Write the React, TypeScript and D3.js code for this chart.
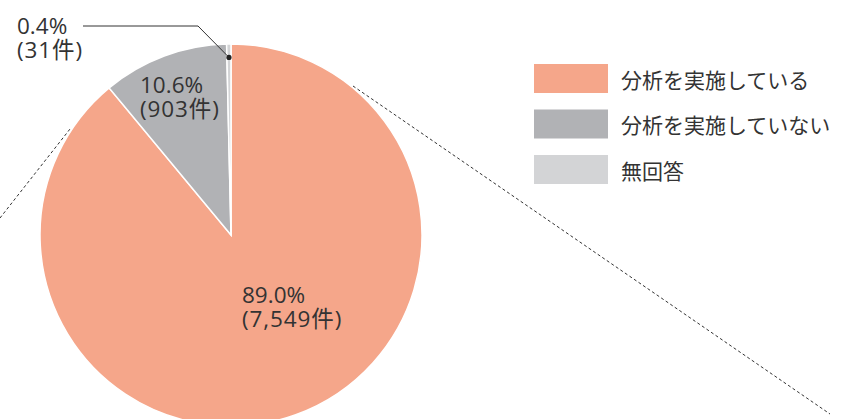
import React from "react";
import * as d3 from "d3";

const categories = ["分析を実施している", "分析を実施していない", "無回答"];
const counts = [7549, 903, 31];
const percentLabels = ["89.0%", "10.6%", "0.4%"];
const countLabels = ["(7,549件)", "(903件)", "(31件)"];
const colors = ["#F5A68A", "#B1B2B5", "#D3D4D6"];

const W = 842;
const H = 419;
const CX = 231;
const CY = 235;
const R = 191;
const FONT = "'Open Sans', 'Noto Sans CJK JP', sans-serif";
const LEGEND_FONT = "'Noto Sans CJK JP', sans-serif";
const TEXT = "#333333";

export default function App() {
  const pie = d3.pie<number>().sort(null).startAngle(0).endAngle(2 * Math.PI);
  const arcs = pie(counts);
  const arc = d3.arc<d3.PieArcDatum<number>>().innerRadius(0).outerRadius(R);
  const dotArc = d3.arc<d3.PieArcDatum<number>>().innerRadius(R * 0.93).outerRadius(R * 0.93);
  const small = arcs[2];
  const dotPos = dotArc.centroid(small);

  const labelPos: [number, number][] = [
    [242, 303],
    [140, 93],
    [17, 34],
  ];

  return (
    <div style={{ position: "absolute", left: 0, top: 0 }}>
      <svg width={W} height={H} style={{ display: "block" }} fontFamily={FONT}>
        <rect width={W} height={H} fill="#ffffff" />
        {/* dashed connector lines */}
        <line x1={0} y1={218} x2={70} y2={129} stroke="#333" strokeWidth={1} strokeDasharray="3 2.5" />
        <line x1={353} y1={86} x2={830} y2={414} stroke="#333" strokeWidth={1} strokeDasharray="3 2.5" />
        <g transform={`translate(${CX},${CY})`}>
          {arcs.map((a, i) => (
            <path key={i} d={arc(a) || ""} fill={colors[i]} stroke="#ffffff" strokeWidth={1.5} />
          ))}
        </g>
        {/* leader for smallest slice */}
        <polyline
          points={`83,26 198,26 ${CX + dotPos[0]},${CY + dotPos[1]}`}
          fill="none"
          stroke="#333"
          strokeWidth={1}
        />
        <circle cx={CX + dotPos[0]} cy={CY + dotPos[1]} r={2.6} fill="#222" />
        {labelPos.map(([x, y], i) => (
          <text key={i} fill={TEXT} fontSize={22.5}>
            <tspan x={x} y={y}>{percentLabels[i]}</tspan>
            <tspan x={x} y={y + 24} letterSpacing={0.9}>{countLabels[i]}</tspan>
          </text>
        ))}
        {/* legend */}
        {categories.map((c, i) => (
          <g key={c} transform={`translate(534,${64 + i * 45.5})`}>
            <rect width={74} height={29} fill={colors[i]} />
            <text x={87} y={14.5} dominantBaseline="central" fontSize={21} fill={TEXT} fontFamily={LEGEND_FONT}>
              {c}
            </text>
          </g>
        ))}
      </svg>
    </div>
  );
}
